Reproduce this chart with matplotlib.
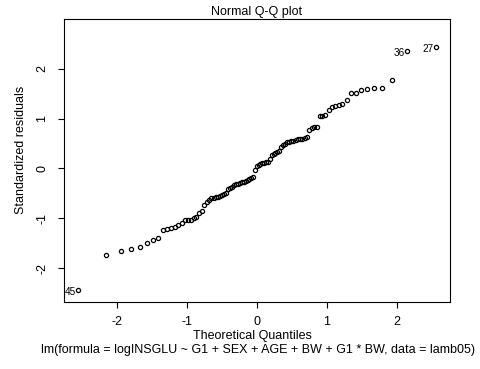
import matplotlib
matplotlib.use('Agg')
import matplotlib.pyplot as plt

# theoretical quantiles (n = 95)
theo = [-2.557, -2.149, -1.938, -1.789, -1.671, -1.573, -1.488, -1.412, -1.344, -1.282,
        -1.224, -1.170, -1.119, -1.071, -1.025, -0.981, -0.939, -0.899, -0.861, -0.823,
        -0.786, -0.751, -0.716, -0.682, -0.649, -0.617, -0.586, -0.555, -0.524, -0.494,
        -0.465, -0.436, -0.407, -0.378, -0.350, -0.322, -0.294, -0.267, -0.240, -0.213,
        -0.186, -0.159, -0.132, -0.106, -0.079, -0.053, -0.026, 0.0,
        0.026, 0.053, 0.079, 0.106, 0.132, 0.159, 0.186, 0.213, 0.240, 0.267,
        0.294, 0.322, 0.350, 0.378, 0.407, 0.436, 0.465, 0.494, 0.524, 0.555,
        0.586, 0.617, 0.649, 0.682, 0.716, 0.751, 0.786, 0.823, 0.861, 0.899,
        0.939, 0.981, 1.025, 1.071, 1.119, 1.170, 1.224, 1.282, 1.344, 1.412,
        1.488, 1.573, 1.671, 1.789, 1.938, 2.149, 2.557]

# sorted standardized residuals
resid = [-2.45, -1.74, -1.66, -1.61, -1.57, -1.49, -1.43, -1.39, -1.24, -1.22,
         -1.19, -1.17, -1.14, -1.09, -1.04, -1.03, -1.03, -1.00, -0.97, -0.89,
         -0.86, -0.74, -0.68, -0.64, -0.60, -0.585, -0.575, -0.57, -0.56, -0.53,
         -0.51, -0.49, -0.42, -0.40, -0.37, -0.34, -0.32, -0.305, -0.29, -0.28,
         -0.27, -0.26, -0.24, -0.22, -0.20, -0.18, -0.03, 0.06,
         0.07, 0.09, 0.11, 0.12, 0.13, 0.14, 0.20, 0.27, 0.30, 0.31,
         0.33, 0.36, 0.44, 0.47, 0.50, 0.53, 0.54, 0.55, 0.56, 0.58,
         0.585, 0.595, 0.60, 0.61, 0.64, 0.78, 0.81, 0.83, 0.84, 1.05,
         1.06, 1.07, 1.17, 1.23, 1.25, 1.27, 1.30, 1.37, 1.51, 1.52,
         1.58, 1.59, 1.61, 1.62, 1.77, 2.37, 2.44]

# labelled observations: (index into the sorted lists, label)
outliers = [(0, '45'), (93, '36'), (94, '27')]

xticks = [-2, -1, 0, 1, 2]
yticks = [-2, -1, 0, 1, 2]


def main():
    plt.rcParams['font.family'] = ['Liberation Sans', 'DejaVu Sans']
    fig = plt.figure(figsize=(4.8, 3.69), dpi=100)
    ax = fig.add_axes([0.1323, 0.1816, 0.8052, 0.767])

    ax.plot(theo, resid, 'o', ms=3.0, mfc='none', mec='black', mew=0.9)

    for i, lab in outliers:
        ax.annotate(lab, (theo[i], resid[i]), xytext=(-1.5, -1.5),
                    textcoords='offset points', ha='right', va='center', fontsize=7.2)

    ax.set_xlim(-2.76, 2.76)
    ax.set_ylim(-2.683, 3.005)
    ax.set_xticks(xticks)
    ax.set_yticks(yticks)
    ax.set_xticklabels([str(t) for t in xticks], fontsize=9)
    ax.set_yticklabels([str(t) for t in yticks], fontsize=9, rotation=90, va='center')
    ax.tick_params(length=4, width=0.8)
    ax.tick_params(axis='x', pad=6)
    ax.tick_params(axis='y', pad=7)
    for s in ax.spines.values():
        s.set_linewidth(0.8)

    ax.set_title('Normal Q-Q plot', fontsize=9, pad=3)
    fig.text(0.526, 0.0894, 'Theoretical Quantiles', ha='center', va='center', fontsize=9)
    fig.text(0.043, 0.595, 'Standardized residuals', ha='center', va='center',
             rotation=90, fontsize=9)
    fig.text(0.537, 0.052, 'lm(formula = logINSGLU ~ G1 + SEX + AGE + BW + G1 * BW, data = lamb05)',
             ha='center', va='center', fontsize=9)

    fig.savefig('out.png', dpi=100)


if __name__ == '__main__':
    main()
